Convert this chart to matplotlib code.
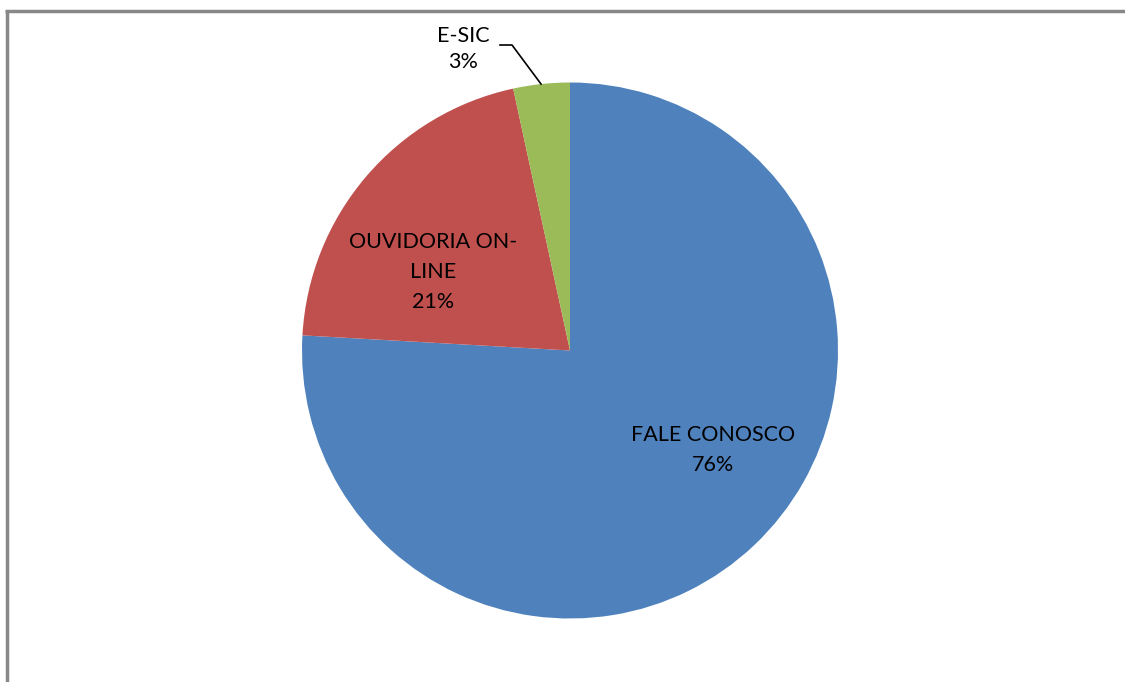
import matplotlib.pyplot as plt

categories = ['FALE CONOSCO', 'OUVIDORIA ON-\nLINE', 'E-SIC']
values = [75.9, 20.7, 3.4]
colors = ['#4F81BD', '#C0504D', '#9BBB59']

W, H = 1125, 682
fig = plt.figure(figsize=(W / 100, H / 100), dpi=100)
ax = fig.add_axes([0, 0, 1, 1])

cx, cy, r = 570, H - 350.5, 268
ax.pie(values, colors=colors, startangle=90, counterclock=False,
       center=(cx, cy), radius=r, frame=True,
       wedgeprops=dict(linewidth=0))
ax.set_xlim(0, W)
ax.set_ylim(0, H)
ax.axis('off')

font = dict(family='Lato', fontsize=15.5, color='black', ha='center', va='center')
pct = [f'{round(v)}%' for v in values]

ax.text(713, H - 450, categories[0] + '\n' + pct[0], linespacing=1.62, **font)
ax.text(433, H - 272, categories[1] + '\n' + pct[1], linespacing=1.62, **font)
ax.text(463, H - 49, categories[2] + '\n' + pct[2], linespacing=1.4, **font)

# leader line for the small slice
ax.plot([500, 512, 541], [H - 45, H - 45, H - 84], color='black', lw=1.2)

# frame (only top and left edges fall inside the picture)
ax.plot([6.5, 6.5], [0, H - 11], color='#888888', lw=2.5, solid_capstyle='butt')
ax.plot([5, W], [H - 11, H - 11], color='#888888', lw=2.5, solid_capstyle='butt')

fig.savefig('out.png', dpi=100)
